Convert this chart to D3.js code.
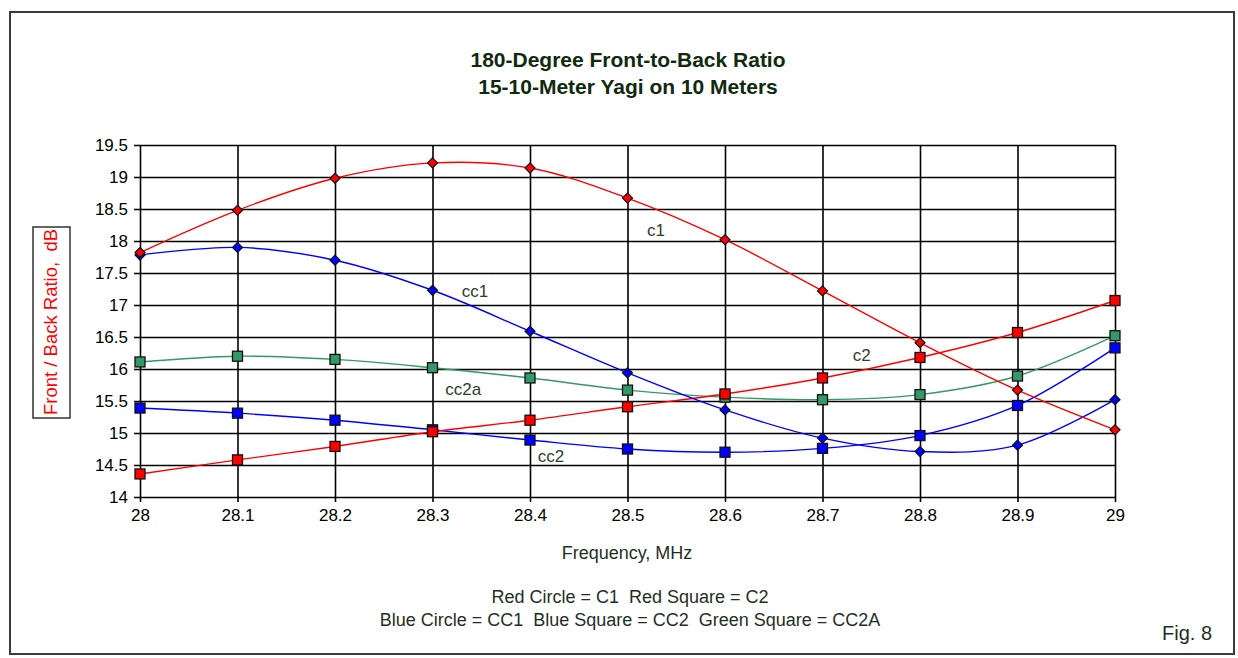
<!DOCTYPE html>
<html><head><meta charset="utf-8">
<script src="https://cdn.jsdelivr.net/npm/d3@7"></script>
<style>body{margin:0;background:#fff}svg{display:block}</style>
</head><body>
<svg id="c" width="1238" height="658"></svg>
<script>
const freqs = [28, 28.1, 28.2, 28.3, 28.4, 28.5, 28.6, 28.7, 28.8, 28.9, 29];
const c1   = [17.82, 18.48, 18.98, 19.22, 19.14, 18.67, 18.02, 17.22, 16.41, 15.67, 15.05];
const c2   = [14.36, 14.58, 14.79, 15.02, 15.20, 15.41, 15.61, 15.86, 16.18, 16.57, 17.07];
const cc1  = [17.78, 17.90, 17.70, 17.23, 16.59, 15.94, 15.36, 14.92, 14.71, 14.81, 15.52];
const cc2  = [15.39, 15.31, 15.20, 15.05, 14.89, 14.75, 14.70, 14.76, 14.96, 15.43, 16.33];
const cc2a = [16.11, 16.20, 16.15, 16.02, 15.86, 15.67, 15.56, 15.52, 15.60, 15.89, 16.52];
const xTicks = [28, 28.1, 28.2, 28.3, 28.4, 28.5, 28.6, 28.7, 28.8, 28.9, 29];
const yTicks = [14, 14.5, 15, 15.5, 16, 16.5, 17, 17.5, 18, 18.5, 19, 19.5];
const titleLines = ["180-Degree Front-to-Back Ratio", "15-10-Meter Yagi on 10 Meters"];
const legendLines = ["Red Circle = C1  Red Square = C2", "Blue Circle = CC1  Blue Square = CC2  Green Square = CC2A"];

const series = [
  {name:"c2a", vals: cc2a, color:"#339966", marker:"square", label:"cc2a", lx:28.313, ly:15.59},
  {name:"cc2", vals: cc2, color:"#0000ff", marker:"square", label:"cc2", lx:28.408, ly:14.55},
  {name:"c2", vals: c2, color:"#ff0000", marker:"square", label:"c2", lx:28.731, ly:16.125},
  {name:"cc1", vals: cc1, color:"#0000ff", marker:"diamond", label:"cc1", lx:28.33, ly:17.125},
  {name:"c1", vals: c1, color:"#ff0000", marker:"diamond", label:"c1", lx:28.52, ly:18.08}
];

const svg = d3.select("#c");
const L = 140, R = 1115, T = 145, B = 497;
const x = d3.scaleLinear().domain([28, 29]).range([L, R]);
const y = d3.scaleLinear().domain([14, 19.5]).range([B, T]);
const FONT = "'Liberation Sans', Arial, sans-serif";
const TXT = "#1f2f1f";

// outer border
svg.append("rect").attr("x", 10).attr("y", 12).attr("width", 1224).attr("height", 642)
  .attr("fill", "#fff").attr("stroke", "#3a3a3a").attr("stroke-width", 2);

// title
svg.append("g").selectAll("text").data(titleLines).join("text")
  .attr("x", 628).attr("y", (d, i) => 67 + i * 27)
  .attr("text-anchor", "middle")
  .attr("font-family", FONT)
  .attr("font-weight", "bold").attr("font-size", 21).attr("fill", "#0f2a0f")
  .text(d => d);

// grid: horizontal
const yAxis = d3.axisLeft(y).tickValues(yTicks).tickSize(-(R - L)).tickSizeOuter(0).tickPadding(8)
  .tickFormat(d => String(d));
const gy = svg.append("g").attr("transform", `translate(${L},0)`).call(yAxis);
gy.select(".domain").remove();
gy.selectAll(".tick line").attr("stroke", "#000").attr("stroke-width", 1.6).attr("x1", -6);
gy.selectAll(".tick text").attr("font-family", FONT)
  .attr("font-size", 17).attr("fill", "#000").attr("x", -12);

const xAxis = d3.axisBottom(x).tickValues(xTicks).tickSize(-(B - T)).tickSizeOuter(0).tickPadding(10)
  .tickFormat(d => String(+d.toFixed(1)));
const gx = svg.append("g").attr("transform", `translate(0,${B})`).call(xAxis);
gx.select(".domain").remove();
gx.selectAll(".tick line").attr("stroke", "#000").attr("stroke-width", 1.6).attr("y1", 5);
gx.selectAll(".tick text").attr("font-family", FONT)
  .attr("font-size", 17).attr("fill", "#000").attr("dy", "0.9em").attr("y", 9);

// lines
const line = d3.line().x((d, i) => x(freqs[i])).y(d => y(d)).curve(d3.curveCatmullRom.alpha(0.5));
const gl = svg.append("g");
series.forEach(s => {
  gl.append("path").attr("d", line(s.vals)).attr("fill", "none")
    .attr("stroke", s.color).attr("stroke-width", 1.4);
});
// markers
const gm = svg.append("g");
series.forEach(s => {
  s.vals.forEach((v, i) => {
    const cx = x(freqs[i]), cy = y(v);
    if (s.marker === "square") {
      gm.append("rect").attr("x", cx - 5).attr("y", cy - 5).attr("width", 10).attr("height", 10)
        .attr("fill", s.color).attr("stroke", "#111").attr("stroke-width", 1.3);
    } else {
      gm.append("path").attr("d", `M${cx},${cy-5}L${cx+5},${cy}L${cx},${cy+5}L${cx-5},${cy}Z`)
        .attr("fill", s.color).attr("stroke", "#111").attr("stroke-width", 1.2);
    }
  });
});
// series labels
svg.append("g").selectAll("text").data(series).join("text")
  .attr("x", d => x(d.lx)).attr("y", d => y(d.ly))
  .attr("font-family", FONT).attr("font-size", 17)
  .attr("fill", "#2e3e2e").text(d => d.label);

// y axis title box
svg.append("rect").attr("x", 33).attr("y", 227).attr("width", 37).attr("height", 191)
  .attr("fill", "#fff").attr("stroke", "#333").attr("stroke-width", 1.5);
svg.append("text").attr("transform", "translate(57,322) rotate(-90)")
  .attr("text-anchor", "middle").attr("font-family", FONT)
  .attr("font-size", 18.5).attr("fill", "#ff0000").style("white-space", "pre")
  .text("Front / Back Ratio,  dB");

// x axis title
svg.append("text").attr("x", 627).attr("y", 559).attr("text-anchor", "middle")
  .attr("font-family", FONT)
  .attr("font-size", 18).attr("fill", TXT).text("Frequency, MHz");

// legend notes
svg.append("g").selectAll("text").data(legendLines).join("text")
  .attr("x", 630).attr("y", (d, i) => 603 + i * 23).attr("text-anchor", "middle")
  .attr("font-family", FONT)
  .attr("font-size", 18).attr("fill", TXT).style("white-space", "pre")
  .text(d => d);

svg.append("text").attr("x", 1187).attr("y", 640).attr("text-anchor", "middle")
  .attr("font-family", FONT)
  .attr("font-size", 20).attr("fill", TXT).text("Fig. 8");
</script>
</body></html>
